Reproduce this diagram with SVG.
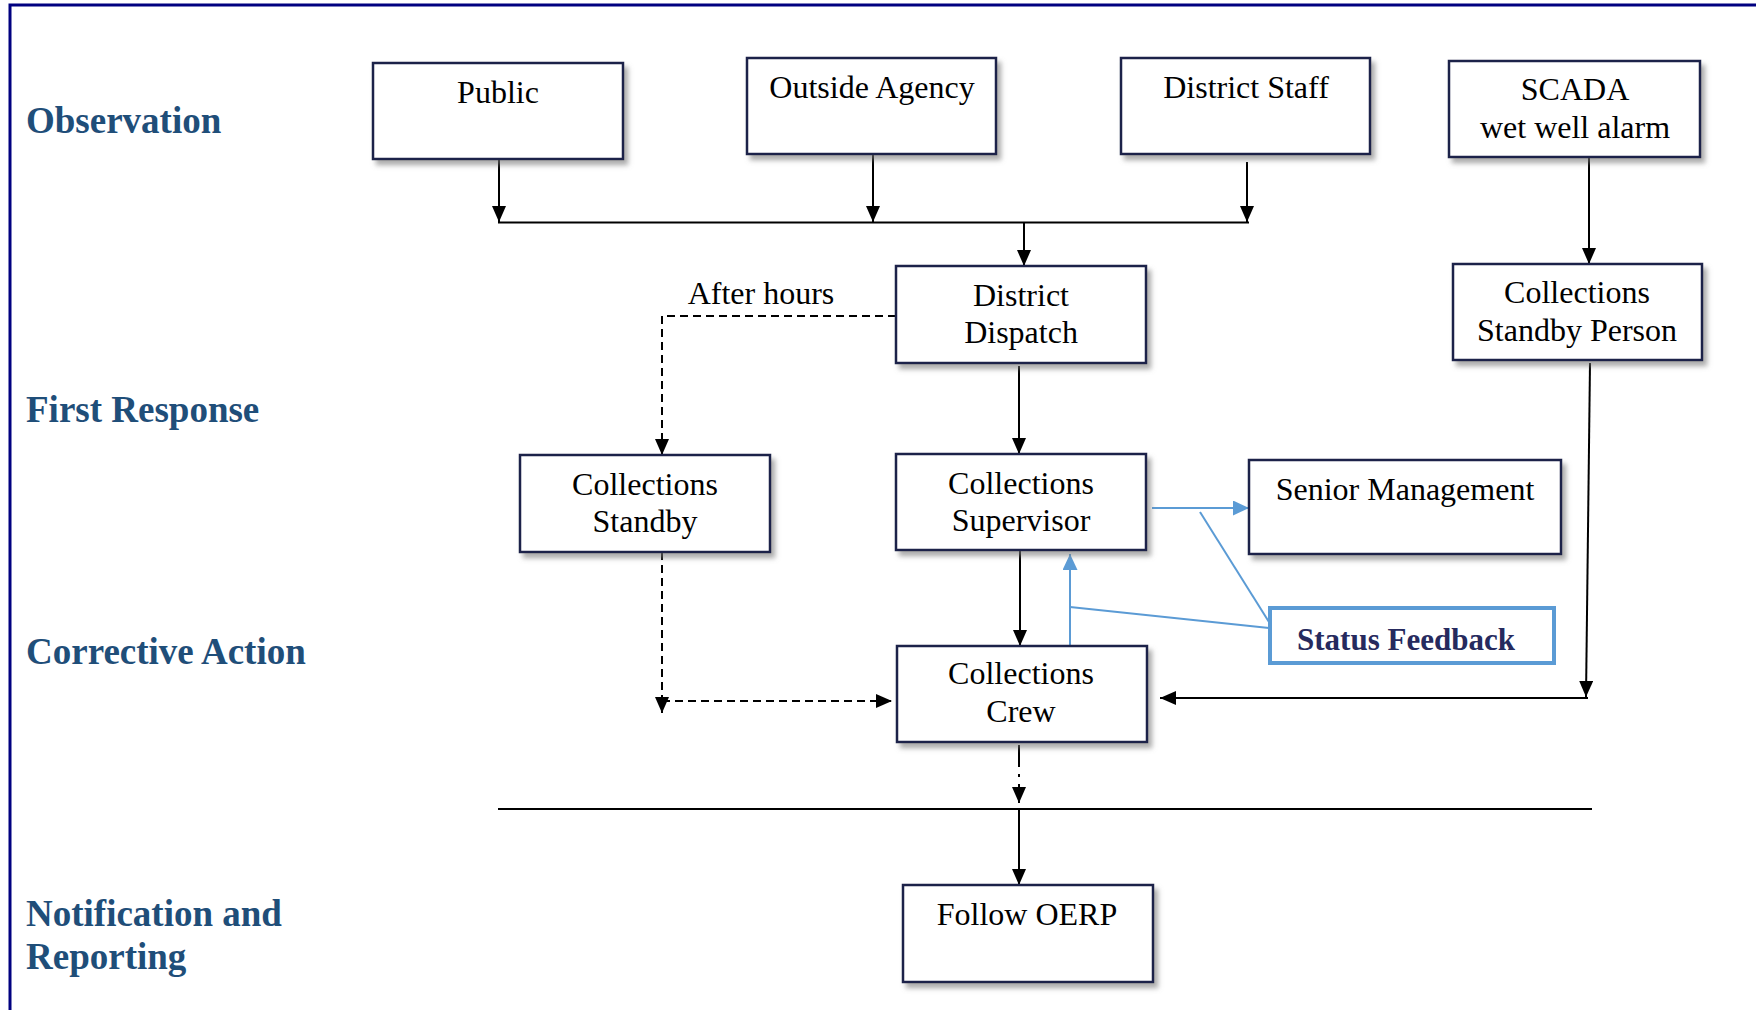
<svg xmlns="http://www.w3.org/2000/svg" width="1756" height="1010" viewBox="0 0 1756 1010">
<style>
.box{fill:#fff;stroke:#1f2148;stroke-width:2.5;filter:url(#sh)}
.t{font-family:"Liberation Serif","Times New Roman",serif;font-size:32px;fill:#000;text-anchor:middle}
.lbl{font-family:"Liberation Serif","Times New Roman",serif;font-size:37px;font-weight:bold;fill:#1F4E79}
.k{fill:none;stroke:#000;stroke-width:2}
.d{stroke-dasharray:8 5}
.b{fill:none;stroke:#5B9BD5;stroke-width:2}
</style>
<defs>
<filter id="sh" x="-10%" y="-10%" width="125%" height="130%">
<feDropShadow dx="4" dy="5" stdDeviation="2.5" flood-color="#777" flood-opacity="0.6"/>
</filter>
<marker id="ah" viewBox="0 0 16 14" markerWidth="16" markerHeight="14" refX="16" refY="7" orient="auto" markerUnits="userSpaceOnUse"><path d="M0,0 L16,7 L0,14 z" fill="#000"/></marker>
<marker id="bh" viewBox="0 0 16 15" markerWidth="16" markerHeight="15" refX="16" refY="7.5" orient="auto" markerUnits="userSpaceOnUse"><path d="M0,0 L16,7.5 L0,15 z" fill="#5B9BD5"/></marker>
</defs>
<rect width="1756" height="1010" fill="#fff"/>
<path d="M10,1010 V5 H1756" fill="none" stroke="#000080" stroke-width="3"/>
<g id="labels">
<text class="lbl" x="26" y="133">Observation</text>
<text class="lbl" x="26" y="422">First Response</text>
<text class="lbl" x="26" y="664">Corrective Action</text>
<text class="lbl" x="26" y="926">Notification and</text>
<text class="lbl" x="26" y="969">Reporting</text>
</g>
<g id="connectors">
<path class="k" d="M499,159 V222" marker-end="url(#ah)"/>
<path class="k" d="M873,155 V222" marker-end="url(#ah)"/>
<path class="k" d="M1247,162 V222" marker-end="url(#ah)"/>
<path class="k" d="M498,222.5 H1249" stroke-width="2.5"/>
<path class="k" d="M1024,223 V266" marker-end="url(#ah)"/>
<path class="k" d="M1589,157 V264" marker-end="url(#ah)"/>
<path class="k d" d="M896,316 H662 V455" marker-end="url(#ah)"/>
<text class="t" x="761" y="304">After hours</text>
<path class="k" d="M1019,366 V454" marker-end="url(#ah)"/>
<path class="k d" d="M662,552 V713" marker-end="url(#ah)"/>
<path class="k d" d="M662,701 H892" marker-end="url(#ah)"/>
<path class="k" d="M1020,550 V646" marker-end="url(#ah)"/>
<path class="k" d="M1590,363 L1586,697" marker-end="url(#ah)"/>
<path class="k" d="M1588,698 H1160" marker-end="url(#ah)"/>
<path class="k" d="M1019,745 V803" stroke-dasharray="22 7 3 7 30" stroke-width="2.5" marker-end="url(#ah)"/>
<path class="k" d="M498,809 H1592" stroke-width="2.5"/>
<path class="k" d="M1019,810 V885" marker-end="url(#ah)"/>
<path class="b" d="M1152,508 H1249" marker-end="url(#bh)"/>
<path class="b" d="M1200,512 L1269,622"/>
<path class="b" d="M1070,607 L1269,628"/>
<path class="b" d="M1070,646 V554" marker-end="url(#bh)"/>
</g>
<g id="public"><rect class="box" x="373" y="63" width="250" height="96"/><text class="t" x="498" y="103">Public</text></g>
<g id="outside-agency"><rect class="box" x="747" y="58" width="249" height="96"/><text class="t" x="872" y="98">Outside Agency</text></g>
<g id="district-staff"><rect class="box" x="1121" y="58" width="249" height="96"/><text class="t" x="1246" y="98">District Staff</text></g>
<g id="scada"><rect class="box" x="1449" y="61" width="251" height="96"/><text class="t" x="1575" y="100">SCADA</text><text class="t" x="1575" y="138">wet well alarm</text></g>
<g id="district-dispatch"><rect class="box" x="896" y="266" width="250" height="97"/><text class="t" x="1021" y="306">District</text><text class="t" x="1021" y="343">Dispatch</text></g>
<g id="collections-standby-person"><rect class="box" x="1453" y="264" width="249" height="96"/><text class="t" x="1577" y="303">Collections</text><text class="t" x="1577" y="341">Standby Person</text></g>
<g id="collections-standby"><rect class="box" x="520" y="455" width="250" height="97"/><text class="t" x="645" y="495">Collections</text><text class="t" x="645" y="532">Standby</text></g>
<g id="collections-supervisor"><rect class="box" x="896" y="454" width="250" height="96"/><text class="t" x="1021" y="494">Collections</text><text class="t" x="1021" y="531">Supervisor</text></g>
<g id="senior-management"><rect class="box" x="1249" y="460" width="312" height="94"/><text class="t" x="1405" y="500">Senior Management</text></g>
<g id="status-feedback"><rect x="1270" y="608" width="284" height="55" fill="#fff" stroke="#5B9BD5" stroke-width="4"/><text x="1406" y="650" font-family="Liberation Serif, Times New Roman, serif" font-size="31" font-weight="bold" fill="#262A5E" text-anchor="middle">Status Feedback</text></g>
<g id="collections-crew"><rect class="box" x="897" y="646" width="250" height="96"/><text class="t" x="1021" y="684">Collections</text><text class="t" x="1021" y="722">Crew</text></g>
<g id="follow-oerp"><rect class="box" x="903" y="885" width="250" height="97"/><text class="t" x="1027" y="925">Follow OERP</text></g>
</svg>
